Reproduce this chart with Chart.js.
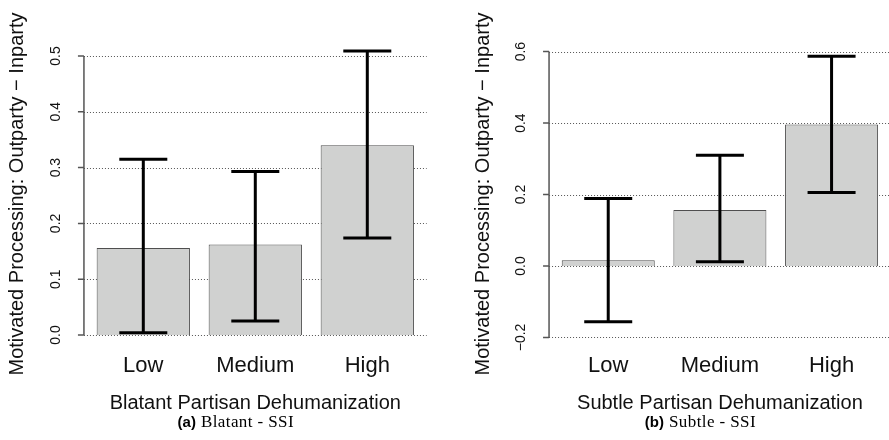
<!DOCTYPE html>
<html>
<head>
<meta charset="utf-8">
<script src="https://cdn.jsdelivr.net/npm/chart.js@4/dist/chart.umd.min.js"></script>
<style>
html, body { margin:0; padding:0; background:#fff; overflow:hidden; width:889px; height:440px; }
#wrap { position:relative; width:889px; height:440px; overflow:hidden; }
canvas { position:absolute; left:0; top:0; }
</style>
</head>
<body>
<div id="wrap">
<canvas id="c1" width="900" height="440"></canvas>
<canvas id="c2" width="900" height="440"></canvas>
</div>
<script>
// ---- data ----
const categories = ['Low', 'Medium', 'High'];

const blatantMean  = [0.156, 0.162, 0.340];
const blatantLower = [0.004, 0.025, 0.174];
const blatantUpper = [0.315, 0.293, 0.509];
const blatantTicks = [0.0, 0.1, 0.2, 0.3, 0.4, 0.5];
const blatantTickLabels = ['0.0', '0.1', '0.2', '0.3', '0.4', '0.5'];

const subtleMean  = [0.016, 0.157, 0.396];
const subtleLower = [-0.156, 0.012, 0.206];
const subtleUpper = [0.189, 0.310, 0.587];
const subtleTicks = [-0.2, 0.0, 0.2, 0.4, 0.6];
const subtleTickLabels = ['\u22120.2', '0.0', '0.2', '0.4', '0.6'];

const yTitle = 'Motivated Processing: Outparty \u2212 Inparty';
const blatantXTitle = 'Blatant Partisan Dehumanization';
const subtleXTitle = 'Subtle Partisan Dehumanization';
const blatantCaption = ['(a)', 'Blatant - SSI'];
const subtleCaption = ['(b)', 'Subtle - SSI'];

// ---- R-style base graphics plugin ----
const rPlot = {
  id: 'rPlot',
  beforeDatasetsDraw(chart, args, o) {
    const {ctx, chartArea: a, scales: {x, y}} = chart;
    const pitch = x.getPixelForValue(1) - x.getPixelForValue(0);
    const pad = pitch * 0.03;
    ctx.save();
    ctx.strokeStyle = '#555';
    ctx.lineWidth = 1;
    ctx.setLineDash([1, 2]);
    o.ticks.forEach(v => {
      const py = Math.round(y.getPixelForValue(v)) + 0.5;
      ctx.beginPath();
      ctx.moveTo(a.left - pad, py);
      ctx.lineTo(a.right + pad, py);
      ctx.stroke();
    });
    ctx.restore();
  },
  afterDatasetsDraw(chart, args, o) {
    const {ctx, chartArea: a, scales: {x, y}} = chart;
    const pitch = x.getPixelForValue(1) - x.getPixelForValue(0);
    const pad = pitch * 0.03;
    const axisX = a.left - pad;
    ctx.save();
    // error bars
    ctx.strokeStyle = '#000';
    ctx.lineWidth = 3;
    ctx.lineCap = 'butt';
    o.lower.forEach((lo, i) => {
      const cx = x.getPixelForValue(i);
      const y1 = y.getPixelForValue(lo);
      const y2 = y.getPixelForValue(o.upper[i]);
      ctx.beginPath();
      ctx.moveTo(cx, y1); ctx.lineTo(cx, y2);
      ctx.moveTo(cx - 24, y1); ctx.lineTo(cx + 24, y1);
      ctx.moveTo(cx - 24, y2); ctx.lineTo(cx + 24, y2);
      ctx.stroke();
    });
    // y axis line and ticks
    ctx.strokeStyle = '#555';
    ctx.lineWidth = 1.5;
    const t0 = y.getPixelForValue(o.ticks[0]);
    const t1 = y.getPixelForValue(o.ticks[o.ticks.length - 1]);
    ctx.beginPath();
    ctx.moveTo(axisX, t0); ctx.lineTo(axisX, t1);
    o.ticks.forEach(v => {
      const py = y.getPixelForValue(v);
      ctx.moveTo(axisX - 6, py); ctx.lineTo(axisX, py);
    });
    ctx.stroke();
    // tick labels (rotated, parallel to axis)
    ctx.fillStyle = '#111';
    ctx.font = '14px "Liberation Sans", Arial, sans-serif';
    ctx.textAlign = 'center';
    ctx.textBaseline = 'middle';
    o.ticks.forEach((v, i) => {
      const py = y.getPixelForValue(v);
      ctx.save();
      ctx.translate(axisX - 28, py);
      ctx.rotate(-Math.PI / 2);
      ctx.fillText(o.tickLabels[i], 0, 0);
      ctx.restore();
    });
    // y title
    ctx.font = '20px "Liberation Sans", Arial, sans-serif';
    ctx.save();
    ctx.translate(axisX - 66, 194);
    ctx.rotate(-Math.PI / 2);
    ctx.fillText(o.yTitle, 0, 0);
    ctx.restore();
    // category labels
    ctx.textBaseline = 'alphabetic';
    ctx.font = '22px "Liberation Sans", Arial, sans-serif';
    chart.data.labels.forEach((lab, i) => {
      ctx.fillText(lab, x.getPixelForValue(i), a.bottom + 22);
    });
    // x title
    const mid = (a.left + a.right) / 2;
    ctx.font = '20px "Liberation Sans", Arial, sans-serif';
    ctx.fillText(o.xTitle, mid, a.bottom + 59);
    // caption
    ctx.fillStyle = '#000';
    const boldFont = 'bold 15px "Liberation Sans", Arial, sans-serif';
    const serifFont = '17px "Liberation Serif", "DejaVu Serif", serif';
    ctx.font = boldFont;
    const w1 = ctx.measureText(o.caption[0]).width;
    ctx.font = serifFont;
    ctx.letterSpacing = '0.4px';
    const w2 = ctx.measureText(o.caption[1]).width;
    ctx.letterSpacing = '0px';
    const gap = 5;
    const total = w1 + gap + w2;
    const start = mid - 19.5 - total / 2;
    ctx.textAlign = 'left';
    ctx.font = boldFont;
    ctx.fillText(o.caption[0], start, a.bottom + 77);
    ctx.font = serifFont;
    ctx.letterSpacing = '0.4px';
    ctx.fillText(o.caption[1], start + w1 + gap, a.bottom + 77);
    ctx.letterSpacing = '0px';
    ctx.restore();
  }
};

function makeChart(id, values, lower, upper, ticks, tickLabels, yMin, yMax, padL, padR, xTitle, caption) {
  return new Chart(document.getElementById(id), {
    type: 'bar',
    data: {
      labels: categories,
      datasets: [{
        data: values,
        backgroundColor: '#d0d1d0',
        borderColor: '#4f4f4f',
        borderWidth: 1,
        barPercentage: 1,
        categoryPercentage: 0.833
      }]
    },
    options: {
      responsive: false,
      animation: false,
      devicePixelRatio: 1,
      layout: { padding: { left: padL, right: padR, top: 30, bottom: 90 } },
      scales: {
        x: { display: false },
        y: { display: false, min: yMin, max: yMax }
      },
      plugins: {
        legend: { display: false },
        tooltip: { enabled: false },
        rPlot: { ticks, tickLabels, lower, upper, yTitle, xTitle, caption }
      }
    },
    plugins: [rPlot]
  });
}

makeChart('c1', blatantMean, blatantLower, blatantUpper, blatantTicks, blatantTickLabels,
  -0.02688, 0.5466, 87.3, 476.7, blatantXTitle, blatantCaption);
makeChart('c2', subtleMean, subtleLower, subtleUpper, subtleTicks, subtleTickLabels,
  -0.2351, 0.6605, 552.4, 12.6, subtleXTitle, subtleCaption);
</script>
</body>
</html>
